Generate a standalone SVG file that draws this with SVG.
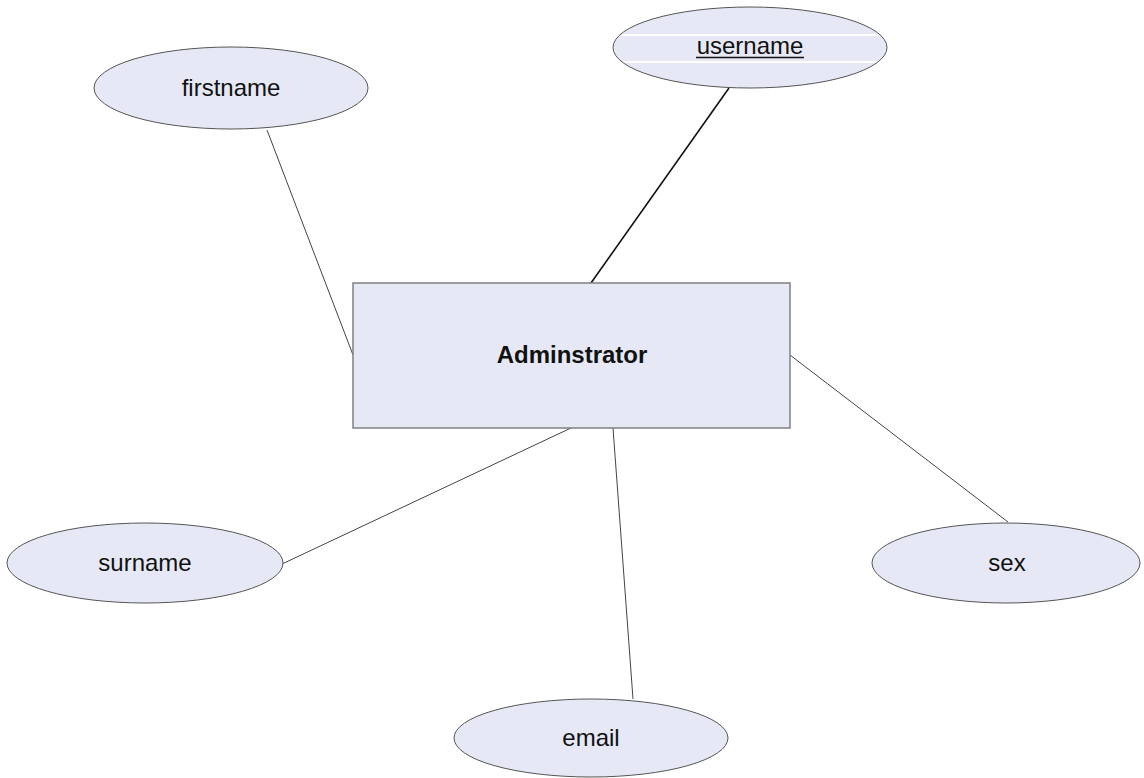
<svg xmlns="http://www.w3.org/2000/svg" width="1144" height="778" viewBox="0 0 1144 778">
<style>
.bg{fill:#ffffff}
.attr{fill:#e6e9f5;stroke:#555555;stroke-width:1}
.ent{fill:#e6e9f5;stroke:#808080;stroke-width:1.5}
.lbl{font-family:"Liberation Sans",Arial,sans-serif;font-size:24px;fill:#111111;text-anchor:middle}
.bold{font-weight:bold}
.conn{stroke:#444444;stroke-width:1;fill:none}
.conn-key{stroke:#111111;stroke-width:1.6;fill:none}
</style>
<defs>
<clipPath id="uclip"><ellipse cx="750" cy="47.5" rx="136" ry="39.5"/></clipPath>
</defs>
<rect class="bg" x="0" y="0" width="1144" height="778"/>
<g id="connectors">
<line class="conn" x1="267" y1="130" x2="353" y2="355"/>
<line class="conn-key" x1="729" y1="88" x2="591" y2="283"/>
<line class="conn" x1="790" y1="355" x2="1008" y2="522"/>
<line class="conn" x1="571" y1="428" x2="282" y2="564"/>
<line class="conn" x1="613" y1="428" x2="633" y2="699"/>
</g>
<g id="adminstrator">
<rect class="ent" x="353" y="283" width="437" height="145"/>
<text class="lbl bold" x="572" y="363">Adminstrator</text>
</g>
<g id="firstname">
<ellipse class="attr" cx="231" cy="88" rx="137" ry="41"/>
<text class="lbl" x="231" y="96">firstname</text>
</g>
<g id="username">
<ellipse class="attr" cx="750" cy="47.5" rx="137" ry="40.5"/>
<g clip-path="url(#uclip)">
<line x1="610" y1="35" x2="890" y2="35" stroke="#ffffff" stroke-width="2"/>
<line x1="610" y1="62" x2="890" y2="62" stroke="#ffffff" stroke-width="2"/>
</g>
<text class="lbl" x="750" y="54">username</text>
<line x1="696" y1="57.5" x2="804" y2="57.5" stroke="#111111" stroke-width="1.3"/>
</g>
<g id="surname">
<ellipse class="attr" cx="145" cy="563" rx="138" ry="40"/>
<text class="lbl" x="145" y="571">surname</text>
</g>
<g id="sex">
<ellipse class="attr" cx="1006" cy="563" rx="134" ry="40"/>
<text class="lbl" x="1007" y="571">sex</text>
</g>
<g id="email">
<ellipse class="attr" cx="591" cy="738" rx="137" ry="39"/>
<text class="lbl" x="591" y="746">email</text>
</g>
</svg>
